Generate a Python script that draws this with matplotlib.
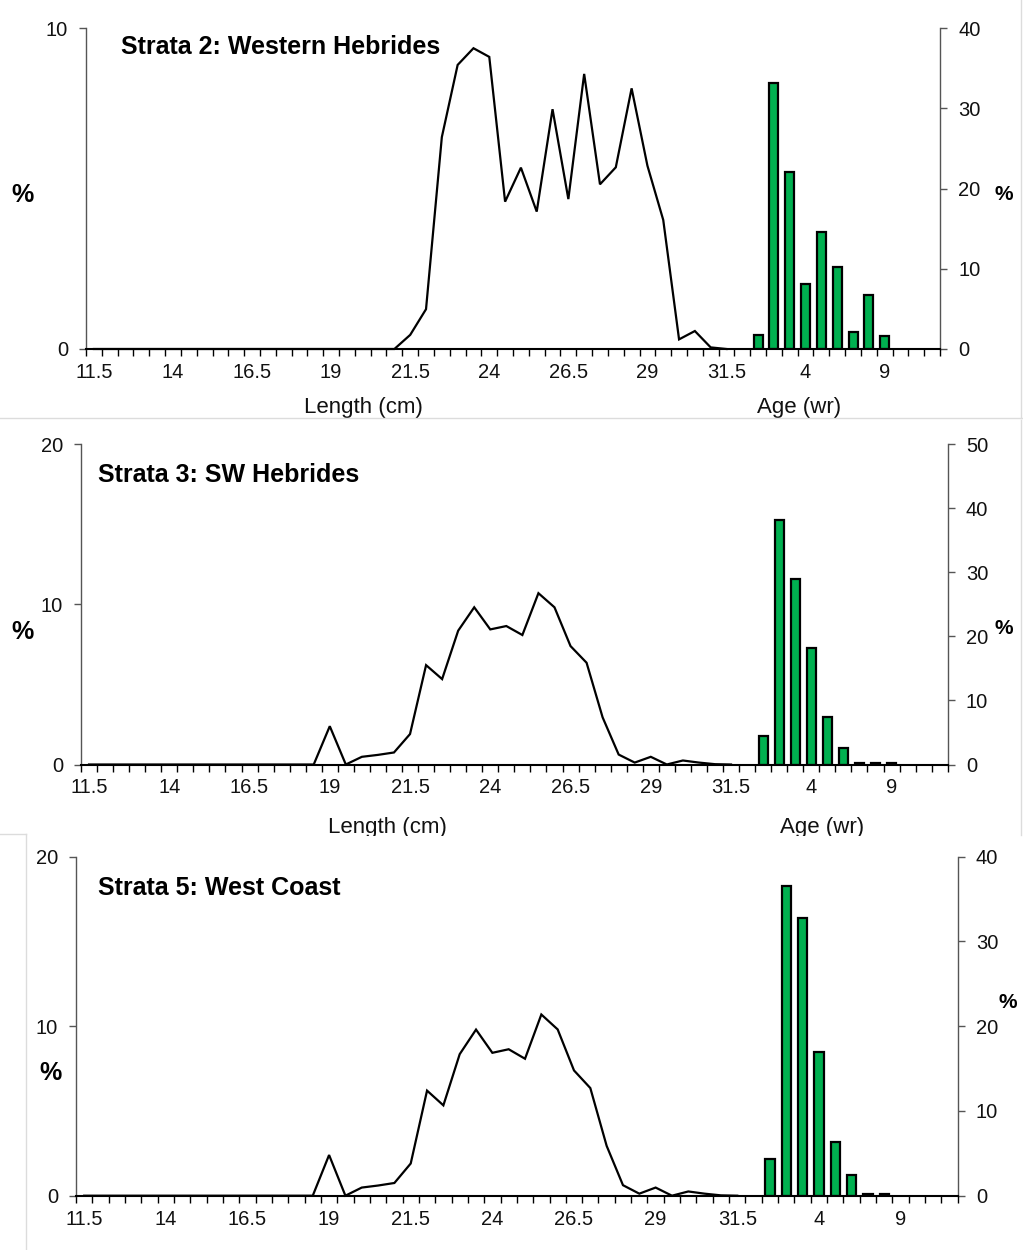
import matplotlib
matplotlib.use("Agg")
import matplotlib.pyplot as plt
from matplotlib.patches import Rectangle
from matplotlib.lines import Line2D

plt.rcParams['font.family'] = ['Liberation Sans', 'DejaVu Sans']

# ---------------- data ----------------
length_labels = ["11.5", "12", "12.5", "13", "13.5", "14", "14.5", "15", "15.5", "16",
                 "16.5", "17", "17.5", "18", "18.5", "19", "19.5", "20", "20.5", "21",
                 "21.5", "22", "22.5", "23", "23.5", "24", "24.5", "25", "25.5", "26",
                 "26.5", "27", "27.5", "28", "28.5", "29", "29.5", "30", "30.5", "31",
                 "31.5", "32"]
age_labels = ["1", "2", "3", "4", "5", "6", "7", "8", "9", "10", "11", "12"]

# length-frequency (%) for 11.5 .. 31.5 cm
len_s2 = [0, 0, 0, 0, 0, 0, 0, 0, 0, 0,
          0, 0, 0, 0, 0, 0, 0, 0, 0, 0,
          0.44, 1.24, 6.6, 8.85, 9.37, 9.1, 4.59, 5.65, 4.28, 7.47,
          4.67, 8.57, 5.13, 5.66, 8.12, 5.71, 4.02, 0.30, 0.56, 0.05,
          0.0]
len_s3 = [0, 0, 0, 0, 0, 0, 0, 0, 0, 0,
          0, 0, 0, 0, 0, 2.39, 0.0, 0.48, 0.6, 0.75,
          1.9, 6.2, 5.33, 8.35, 9.81, 8.43, 8.64, 8.08, 10.69, 9.81,
          7.39, 6.35, 2.94, 0.62, 0.12, 0.48, 0.0, 0.25, 0.12, 0.02,
          0.0]
len_s5 = [0, 0, 0, 0, 0, 0, 0, 0, 0, 0,
          0, 0, 0, 0, 0, 2.4, 0.0, 0.48, 0.6, 0.75,
          1.9, 6.2, 5.33, 8.35, 9.8, 8.43, 8.64, 8.08, 10.69, 9.81,
          7.39, 6.35, 2.94, 0.62, 0.12, 0.48, 0.0, 0.25, 0.12, 0.02,
          0.0]

# age composition (%) for ages 1..n
age_s2 = [1.7, 33.1, 22.0, 8.1, 14.6, 10.2, 2.1, 6.7, 1.6]
age_s3 = [4.4, 38.2, 29.0, 18.1, 7.4, 2.65, 0.2, 0.2, 0.2]
age_s5 = [4.3, 36.6, 32.8, 17.0, 6.3, 2.5, 0.15, 0.2]

titles = ["Strata 2: Western Hebrides", "Strata 3: SW Hebrides", "Strata 5: West Coast"]

# ---------------- layout (pixels) ----------------
W, H = 1023, 1250
fig = plt.figure(figsize=(W / 100, H / 100), dpi=100)

def fx(x):
    return x / W

def fy(y):
    return 1 - y / H

panels = [
    dict(box=(86, 940, 28, 349), lens=len_s2, ages=age_s2, lmax=10, lticks=[0, 10],
         rmax=40, rticks=[0, 10, 20, 30, 40], title=titles[0], title_xy=(121, 47),
         pl=(23, 195), pr=(1004, 195), xl=((363, 407), (799, 407))),
    dict(box=(81, 947.7, 444, 764.5), lens=len_s3, ages=age_s3, lmax=20, lticks=[0, 10, 20],
         rmax=50, rticks=[0, 10, 20, 30, 40, 50], title=titles[1], title_xy=(98, 475),
         pl=(23, 632), pr=(1004, 629), xl=((387, 828), (822, 828))),
    dict(box=(76, 957.7, 856.7, 1195.7), lens=len_s5, ages=age_s5, lmax=20, lticks=[0, 10, 20],
         rmax=40, rticks=[0, 10, 20, 30, 40], title=titles[2], title_xy=(98, 888),
         pl=(51, 1073), pr=(1008, 1002), xl=None),
]

all_labels = length_labels + age_labels
ncat = len(all_labels)
nlen = len(length_labels)
label_idx = list(range(0, ncat, 5))[:11]

ygray = '#555555'
tick_fs = 14.5

for p in panels:
    L, R, T, B = p['box']
    ax = fig.add_axes([fx(L), fy(B), fx(R - L), (B - T) / H])
    ax2 = ax.twinx()

    # line (left axis)
    xs = [i + 0.5 for i in range(len(p['lens']))]
    ax.plot(xs, p['lens'], color='black', lw=1.6, solid_joinstyle='miter', clip_on=False, zorder=3)

    # bars (right axis)
    bx = [nlen + k + 0.5 for k in range(len(p['ages']))]
    ax2.bar(bx, p['ages'], width=0.57, color='#00B050', edgecolor='black', linewidth=1.6, zorder=2)

    ax.set_xlim(0, ncat)
    ax.set_ylim(0, p['lmax'])
    ax2.set_ylim(0, p['rmax'])

    # x ticks: boundaries (minor) and labels every 5 categories (major)
    ax.set_xticks([i for i in range(ncat + 1)], minor=True)
    ax.set_xticks([i + 0.5 for i in label_idx])
    ax.set_xticklabels([all_labels[i] for i in label_idx])
    ax.tick_params(axis='x', which='minor', length=5, width=1.0, color='black', direction='out')
    ax.tick_params(axis='x', which='major', length=0, pad=10, labelsize=tick_fs, labelcolor='#111111')

    ax.set_yticks(p['lticks'])
    ax.tick_params(axis='y', length=5, width=1.0, color=ygray, pad=8, labelsize=tick_fs, labelcolor='#111111')
    ax2.set_yticks(p['rticks'])
    ax2.tick_params(axis='y', length=5, width=1.0, color=ygray, pad=8, labelsize=tick_fs, labelcolor='#111111')

    for a in (ax, ax2):
        a.spines['top'].set_visible(False)
        a.patch.set_visible(False)
    ax.spines['right'].set_visible(False)
    ax2.spines['left'].set_visible(False)
    ax2.spines['bottom'].set_visible(False)
    ax.spines['left'].set_color(ygray)
    ax.spines['left'].set_linewidth(1.0)
    ax2.spines['right'].set_color(ygray)
    ax2.spines['right'].set_linewidth(1.0)
    ax.spines['bottom'].set_color('black')
    ax.spines['bottom'].set_linewidth(1.5)
    ax.set_zorder(ax2.get_zorder() + 1)

    fig.text(fx(p['title_xy'][0]), fy(p['title_xy'][1]), p['title'], fontsize=18,
             fontweight='bold', ha='left', va='center')
    fig.text(fx(p['pl'][0]), fy(p['pl'][1]), '%', fontsize=18, fontweight='bold', ha='center', va='center')
    fig.text(fx(p['pr'][0]), fy(p['pr'][1]), '%', fontsize=15, fontweight='bold', ha='center', va='center')
    if p['xl']:
        (lx, ly), (gx, gy) = p['xl']
        fig.text(fx(lx), fy(ly), 'Length (cm)', fontsize=16, ha='center', va='center', color='#111111')
        fig.text(fx(gx), fy(gy), 'Age (wr)', fontsize=16, ha='center', va='center', color='#111111')

# screenshot seams: mask below panel 2 labels and faint borders
fig.patches.append(Rectangle((fx(27), fy(848)), fx(1000), (848 - 835.5) / H, transform=fig.transFigure,
                             facecolor='white', edgecolor='none', zorder=10))
seam = '#dcdcdc'
fig.add_artist(Line2D([0, 1], [fy(418), fy(418)], color=seam, lw=1.0, zorder=11))
fig.add_artist(Line2D([fx(1021), fx(1021)], [fy(0), fy(418)], color=seam, lw=1.0, zorder=11))
fig.add_artist(Line2D([fx(1021), fx(1021)], [fy(420), fy(835)], color=seam, lw=1.0, zorder=11))
fig.add_artist(Line2D([0, fx(26)], [fy(834), fy(834)], color=seam, lw=1.0, zorder=11))
fig.add_artist(Line2D([fx(26), fx(26)], [fy(834), 0], color=seam, lw=1.0, zorder=11))

fig.savefig('out.png', dpi=100, facecolor='white')
